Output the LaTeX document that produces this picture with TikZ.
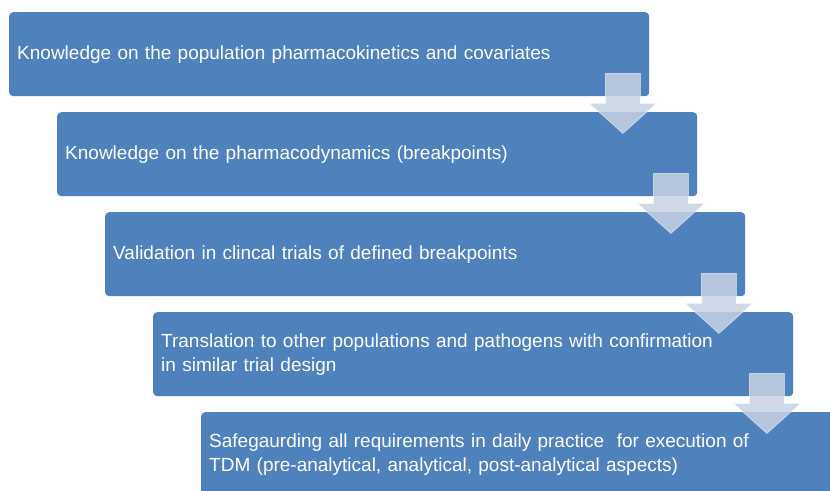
\documentclass[tikz,border=0pt]{standalone}
\usepackage{fontspec}
\setmainfont{Liberation Sans}
\usetikzlibrary{calc}
\definecolor{boxblue}{RGB}{79,129,189}
\definecolor{arrowfill}{RGB}{200,210,228}
\tikzset{
  stepbox/.style={draw=none, fill=boxblue, rounded corners=4pt, anchor=north west,
    minimum width=640pt, minimum height=84pt, text width=624pt, inner xsep=8pt,
    align=left, text=white, font=\fontsize{19pt}{24pt}\selectfont},
  downarrow/.style={fill=arrowfill, fill opacity=0.85, draw=white, draw opacity=0.5, line width=0.8pt}
}
\newcommand{\downarr}[1]{%
  \path[downarrow] ($(#1.south east)+(-26.5pt,23pt)$) coordinate (c)
    ($(c)+(-17.5pt,0)$) -- ($(c)+(17.5pt,0)$) -- ($(c)+(17.5pt,-30pt)$) -- ($(c)+(33.5pt,-30pt)$)
    -- ($(c)+(0,-60pt)$) -- ($(c)+(-33.5pt,-30pt)$) -- ($(c)+(-17.5pt,-30pt)$) -- cycle;}
\begin{document}
\begin{tikzpicture}[x=1pt,y=-1pt]
\useasboundingbox (0,0) rectangle (830,490);
\clip (0,0) rectangle (830,490);
\node[stepbox] (b1) at (9,12) {Knowledge on the population pharmacokinetics and covariates};
\node[stepbox] (b2) at (57,112) {Knowledge on the pharmacodynamics (breakpoints)};
\node[stepbox] (b3) at (105,212) {Validation in clincal trials of defined breakpoints};
\node[stepbox] (b4) at (153,312) {Translation to other populations and pathogens with confirmation\\in similar trial design};
\node[stepbox] (b5) at (201,412) {Safegaurding all requirements in daily practice\ \ for execution of\\TDM (pre-analytical, analytical, post-analytical aspects)};
\downarr{b1}
\downarr{b2}
\downarr{b3}
\downarr{b4}
\end{tikzpicture}
\end{document}
